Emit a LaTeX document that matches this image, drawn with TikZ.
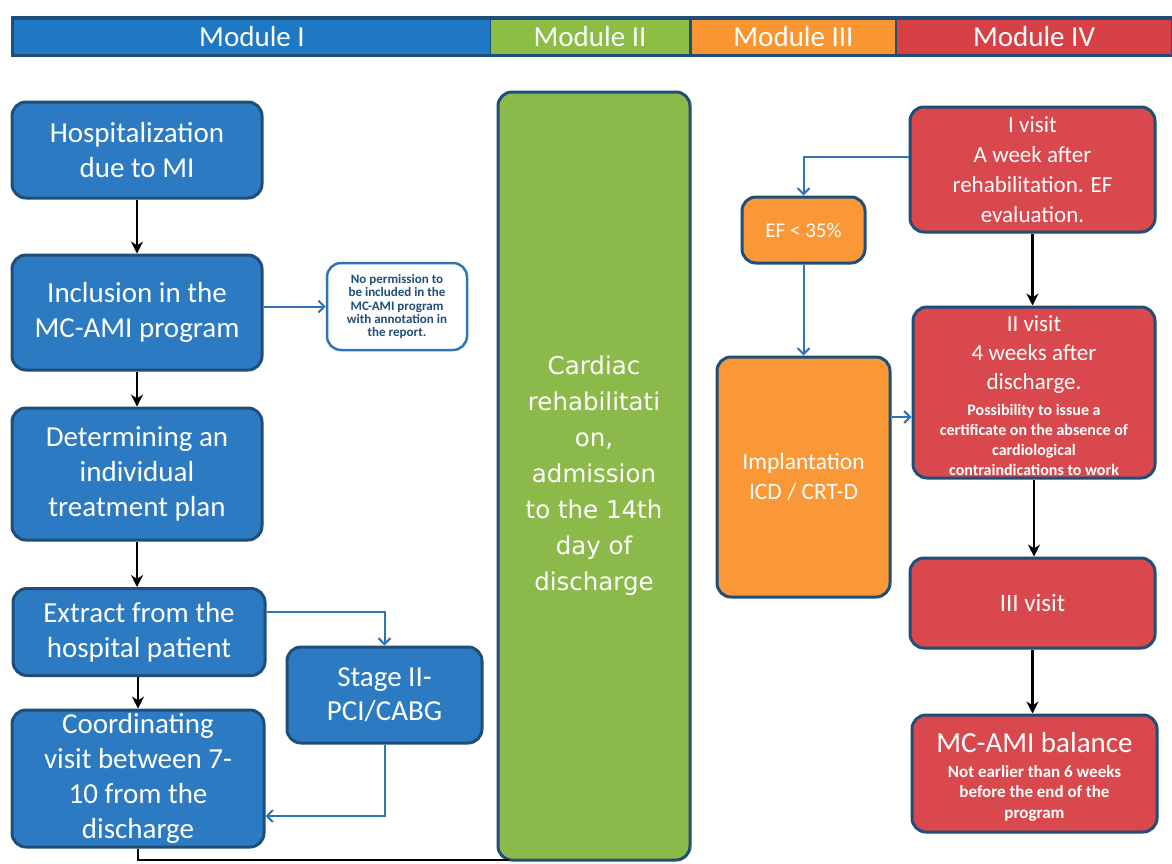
\documentclass[tikz,border=0pt]{standalone}
\usepackage{fontspec}
\setmainfont{Carlito}
\newfontfamily\verd{DejaVu Sans}
\usetikzlibrary{arrows.meta}
\definecolor{bfill}{RGB}{44,122,193}
\definecolor{bord}{RGB}{31,78,121}
\definecolor{gfill}{RGB}{140,186,74}
\definecolor{ofill}{RGB}{250,152,56}
\definecolor{rfill}{RGB}{217,72,76}
\definecolor{conn}{RGB}{46,117,182}
\definecolor{hblue}{RGB}{30,120,195}
\definecolor{hgreen}{RGB}{140,190,70}
\definecolor{horange}{RGB}{250,150,50}
\definecolor{hred}{RGB}{215,65,70}
\begin{document}
\begin{tikzpicture}[x=1pt,y=-1pt,
  box/.style={draw=bord, line width=3pt, rounded corners=14pt, inner sep=0pt, align=center, text=white},
  bluebox/.style={box, fill=bfill, font=\fontsize{29}{35}\selectfont},
  redbox/.style={box, fill=rfill},
  orbox/.style={box, fill=ofill},
  txt/.style={inner sep=0pt, align=center, text=white},
  hdr/.style={inner sep=0pt, text=white, font=\fontsize{29}{30}\selectfont, minimum height=34pt},
  blk/.style={draw=black, line width=2.5pt, -{Stealth[length=12pt,width=12pt]}},
  blu/.style={draw=conn, line width=2pt, -{Straight Barb[length=6pt,width=12pt]}},
]
\useasboundingbox (0,0) rectangle (1172,863);
\fill[white] (0,0) rectangle (1172,863);

% header bar
\fill[bord] (11,16) rectangle (1172,57);
\node[hdr, fill=hblue, minimum width=476pt] (h1) at (252,36.5) {Module I};
\node[hdr, fill=hgreen, minimum width=198pt] (h2) at (590,36.5) {Module II};
\node[hdr, fill=horange, minimum width=203pt] (h3) at (793.5,36.5) {Module III};
\node[hdr, fill=hred, minimum width=274pt] (h4) at (1034,36.5) {Module IV};

% Module I
\node[bluebox, minimum width=250pt, minimum height=96pt] (hosp) at (137,150) {Hospitalization\\due to MI};
\node[bluebox, minimum width=250pt, minimum height=115pt] (incl) at (137,312.5) {Inclusion in the\\MC-AMI program};
\node[box, fill=white, draw=conn, line width=2.5pt, text=bord, font=\fontsize{13}{13.4}\selectfont\bfseries,
      minimum width=140pt, minimum height=87pt] (nop) at (397,306.5)
      {No permission to\\be included in the\\MC-AMI program\\with annotation in\\the report.};
\node[bluebox, minimum width=250pt, minimum height=132pt] (det) at (137,474) {Determining an\\individual\\treatment plan};
\node[bluebox, minimum width=252pt, minimum height=87pt] (ext) at (139,632) {Extract from the\\hospital patient};
\node[bluebox, minimum width=252pt, minimum height=137pt] (coord) at (138,778.5) {Coordinating\\visit between 7-\\10 from the\\discharge};
\node[bluebox, minimum width=195pt, minimum height=96pt, font=\fontsize{29}{34}\selectfont] (stage) at (384.5,695) {Stage II-\\PCI/CABG};

% Module II
\node[box, fill=gfill, minimum width=192pt, minimum height=768pt, font=\verd\fontsize{24.5}{36}\selectfont] (green) at (594,476)
  {Cardiac\\rehabilitati\\on,\\admission\\to the 14th\\day of\\discharge};

% Module III
\node[orbox, minimum width=123pt, minimum height=66pt, font=\fontsize{21}{25}\selectfont] (ef) at (803.5,230) {EF < 35\%};
\node[orbox, minimum width=173pt, minimum height=240pt, font=\fontsize{23.5}{30}\selectfont] (impl) at (803.5,477) {Implantation\\ICD / CRT-D};

% Module IV
\node[redbox, minimum width=245pt, minimum height=125pt, font=\fontsize{23}{30}\selectfont] (v1) at (1032.5,169.5)
  {I visit\\A week after\\rehabilitation. EF\\evaluation.};
\node[redbox, minimum width=242pt, minimum height=171pt] (v2) at (1034,392.5) {};
\node[txt, font=\fontsize{23}{29}\selectfont] (v2a) at (1034,355) {II visit\\4 weeks after\\discharge.};
\node[txt, font=\fontsize{16}{20}\selectfont\bfseries] (v2b) at (1034,440)
  {Possibility to issue a\\certificate on the absence of\\cardiological\\contraindications to work};
\node[redbox, minimum width=245pt, minimum height=90pt, font=\fontsize{25}{30}\selectfont] (v3) at (1032.5,603) {III visit};
\node[redbox, minimum width=245pt, minimum height=117pt] (v4) at (1034.5,773.5) {};
\node[txt, font=\fontsize{29}{34}\selectfont] (v4a) at (1034.5,743) {MC-AMI balance};
\node[txt, font=\fontsize{17}{20.5}\selectfont\bfseries] (v4b) at (1034.5,793)
  {Not earlier than 6 weeks\\before the end of the\\program};

% connectors
\draw[blk] (hosp.south) -- (incl.north);
\draw[blk] (incl.south) -- (det.north);
\draw[blk] (det.south) -- (det.south |- ext.north);
\draw[blk] (ext.south -| coord.north) -- (coord.north);
\draw[blu] (incl.east |- nop.west) -- (nop.west);
\draw[blu] ([yshift=20pt]ext.east) -| (stage.north);
\coordinate (cin) at ([yshift=-37.5pt]coord.east);
\draw[blu] (stage.south) |- (cin);
\draw[draw=black, line width=2pt] (coord.south) |- ([xshift=12pt,yshift=2pt]green.south west);

\draw[blu] ([yshift=12.5pt]v1.west) -| (ef.north);
\draw[blu] (ef.south) -- (ef.south |- impl.north);
\coordinate (ia) at ([yshift=60pt]impl.east);
\draw[blu] (ia) -- (ia -| v2.west);
\draw[blk] (v1.south) -- (v1.south |- v2.north);
\draw[blk] (v2.south) -- (v2.south |- v3.north);
\draw[blk] (v3.south) -- (v3.south |- v4.north);
\end{tikzpicture}
\end{document}
